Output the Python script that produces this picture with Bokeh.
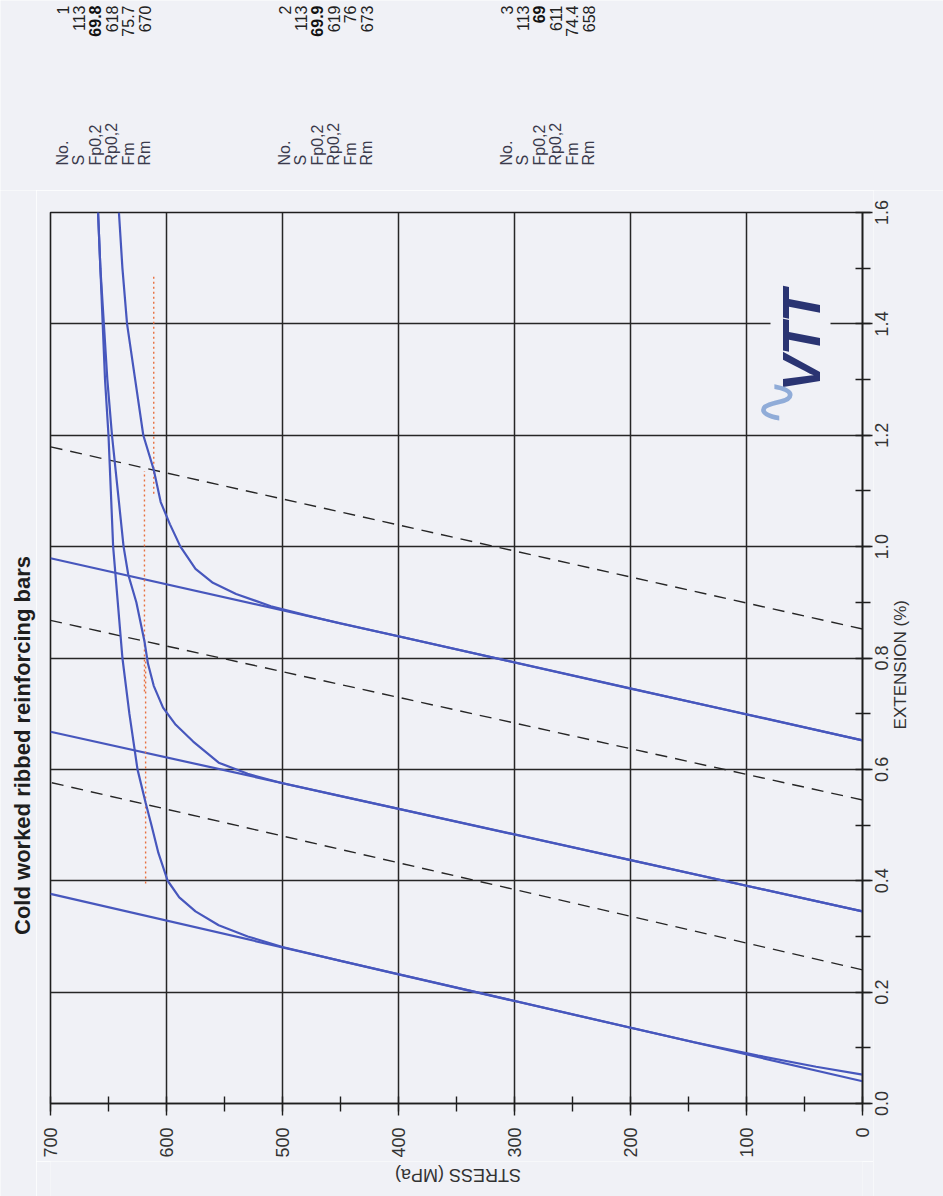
import numpy as np
from math import pi
from bokeh.plotting import figure
from bokeh.layouts import column, row
from bokeh.models import Range1d, SingleIntervalTicker, Label
from bokeh.core.properties import value
from bokeh.embed import file_html
from bokeh.resources import INLINE

# ---------------- data ----------------
specimen_no = ["1", "2", "3"]
area_S = ["113", "113", "113"]
Fp02 = ["69.8", "69.9", "69"]
Rp02 = [618, 619, 611]
Fm = ["75.7", "76", "74.4"]
Rm = [670, 673, 658]
row_names = ["No.", "S", "Fp0,2", "Rp0,2", "Fm", "Rm"]

# fitted elastic lines: extension (%) at zero stress and modulus (GPa)
fit_intercept = [0.040, 0.345, 0.652]
fit_modulus = [208, 217, 214]
offset_pct = 0.2

# measured curves
curve1_stress = [0, 40, 90, 145, 200, 300, 400, 450, 500, 530, 555, 575, 589, 599, 607, 613, 618,
                 625, 632, 638, 642, 646, 648, 650, 653, 655, 657, 659]
curve1_ext = [0.052, 0.066, 0.086, 0.110, 0.136, 0.184, 0.232, 0.256, 0.281, 0.300, 0.320, 0.345,
              0.370, 0.400, 0.450, 0.500, 0.540, 0.600, 0.700, 0.800, 0.900, 1.000, 1.100, 1.200,
              1.300, 1.400, 1.500, 1.600]
curve2_stress = [0, 100, 200, 300, 400, 450, 500, 530, 555, 577, 592, 603, 611, 616, 619, 626, 633,
                 637, 642, 647, 651, 654, 657, 659]
curve2_ext = [0.345, 0.391, 0.437, 0.483, 0.529, 0.552, 0.575, 0.592, 0.612, 0.650, 0.680, 0.711,
              0.750, 0.790, 0.830, 0.900, 0.950, 1.000, 1.100, 1.200, 1.300, 1.400, 1.500, 1.600]
curve3_stress = [0, 100, 200, 300, 400, 450, 480, 510, 540, 560, 575, 588, 597, 605, 611, 620, 627,
                 634, 638, 641]
curve3_ext = [0.652, 0.699, 0.745, 0.792, 0.839, 0.862, 0.877, 0.893, 0.915, 0.935, 0.960, 1.000,
              1.040, 1.080, 1.138, 1.200, 1.300, 1.400, 1.500, 1.600]

# Rp0,2 marker spans (extension %)
rp_span_start = [0.395, 0.74, 1.095]
rp_span_end = [0.80, 1.136, 1.49]

stress_min, stress_max, stress_step = 0, 700, 100
ext_min, ext_max, ext_step = 0.0, 1.6, 0.2
ext_tick_values = [0.0, 0.2, 0.4, 0.6, 0.8, 1.0, 1.2, 1.4, 1.6]
ext_tick_labels = ["0.0", "0.2", "0.4", "0.6", "0.8", "1.0", "1.2", "1.4", "1.6"]

# ---------------- page geometry (pixels) ----------------
W, H = 943, 1196
FL, FR, FT, FB = 50, 862, 212, 1103      # plot frame on the page
TOP_H = 190                              # stats strip height
MAIN_BL, MAIN_BR, MAIN_BT, MAIN_BB = 14, 11, FT - TOP_H, 58
LEFT_W = FL - MAIN_BL                    # title strip width
MAIN_W = MAIN_BL + (FR - FL) + MAIN_BR
MAIN_H = MAIN_BT + (FB - FT) + MAIN_BB
BOT_H = H - TOP_H - MAIN_H
RIGHT_W = W - LEFT_W - MAIN_W
MID_H = H - TOP_H

BG = "#f0f1f6"
BLUE = "#4757bd"
INK = "#1e1e1e"
FONT = "Liberation Sans"
TICK_FS = "18px"

px_per_mpa = (FR - FL) / (stress_max - stress_min)
px_per_pct = (FB - FT) / (ext_max - ext_min)


def panel(w, h, xr=None, yr=None):
    f = figure(width=w, height=h, output_backend="svg", toolbar_location=None, tools="",
               x_range=xr if xr is not None else Range1d(0, w),
               y_range=yr if yr is not None else Range1d(0, h),
               min_border=0, x_axis_location=None, y_axis_location=None)
    f.grid.visible = False
    f.outline_line_color = None
    f.background_fill_color = BG
    f.border_fill_color = BG
    return f


# ---------------- main chart ----------------
p = figure(width=MAIN_W, height=MAIN_H, output_backend="svg", toolbar_location=None, tools="",
           x_range=Range1d(stress_max, stress_min), y_range=Range1d(ext_min, ext_max),
           y_axis_location="right", min_border_left=MAIN_BL, min_border_right=MAIN_BR,
           min_border_top=MAIN_BT, min_border_bottom=MAIN_BB)
p.background_fill_color = BG
p.border_fill_color = BG
p.outline_line_color = INK
p.outline_line_width = 1.6

xt = SingleIntervalTicker(interval=stress_step, num_minor_ticks=2)
yt = SingleIntervalTicker(interval=ext_step, num_minor_ticks=2)
p.xaxis.ticker = xt
p.yaxis.ticker = yt
p.xgrid.ticker = xt
p.ygrid.ticker = yt
for g in (p.xgrid, p.ygrid):
    g.grid_line_color = "#262626"
    g.grid_line_width = 1.5

for ax in (p.xaxis, p.yaxis):
    ax.axis_line_color = INK
    ax.axis_line_width = 1.6
    ax.major_tick_line_color = INK
    ax.minor_tick_line_color = INK
    ax.major_tick_line_width = 1.4
    ax.minor_tick_line_width = 1.4
    ax.major_tick_in = 0
    ax.minor_tick_in = 7
    ax.minor_tick_out = 8
p.xaxis.major_tick_out = 12
p.xaxis.major_label_orientation = pi / 2
p.xaxis.major_label_standoff = 12
p.xaxis.major_label_text_font = FONT
p.xaxis.major_label_text_font_size = TICK_FS
p.xaxis.major_label_text_color = "#333333"
# right axis: ticks only, its labels are set in the right strip (centred on the ticks)
p.yaxis.major_tick_out = 10
p.yaxis.major_label_standoff = 0
p.yaxis.major_label_text_font_size = "0px"
p.yaxis.major_label_text_color = None

# fitted elastic lines and 0.2 % offset lines
s_line = np.array([stress_min, stress_max], dtype=float)
for b, e in zip(fit_intercept, fit_modulus):
    p.line(s_line, b + s_line / (e * 10.0), line_color=BLUE, line_width=2.2)
    p.line(s_line, b + offset_pct + s_line / (e * 10.0), line_color="#262626",
           line_width=1.4, line_dash="12 8")

# Rp0,2 levels
for rp, a, b in zip(Rp02, rp_span_start, rp_span_end):
    p.line([rp, rp], [a, b], line_color="#e8703f", line_width=1.4, line_dash="2 3")

# measured curves
for xs, ys in ((curve1_stress, curve1_ext), (curve2_stress, curve2_ext),
               (curve3_stress, curve3_ext)):
    p.line(xs, ys, line_color=BLUE, line_width=2.2)

# VTT logo (decoration inside the frame)
p.add_layout(Label(x=(FR - 800) / px_per_mpa, y=(FB - 340) / px_per_pct, text="VTT",
                   angle=pi / 2, text_align="center", text_baseline="middle",
                   text_font=FONT, text_font_size="54px", text_font_style="bold italic",
                   text_color="#2a3472", background_fill_color=BG))
p.add_layout(Label(x=(FR - 774) / px_per_mpa, y=(FB - 402) / px_per_pct, text="\u223f",
                   angle=pi / 2, text_align="center", text_baseline="middle",
                   text_font="DejaVu Sans", text_font_size="58px", text_color="#90acd8"))

# ---------------- top strip: specimen results ----------------
top = panel(W, TOP_H)
group_x = [62, 284, 506]
line_gap = 16.4
lx, ly, lt = [], [], []
vx, vy, vt = [], [], []
bx, by, bt = [], [], []
for gi, gx in enumerate(group_x):
    vals = [specimen_no[gi], area_S[gi], Fp02[gi], str(Rp02[gi]), Fm[gi], str(Rm[gi])]
    for li, name in enumerate(row_names):
        xx = gx + li * line_gap
        lx.append(xx); ly.append(TOP_H - 165); lt.append(name)
        if li == 2:
            bx.append(xx); by.append(TOP_H - 5); bt.append(vals[li])
        else:
            vx.append(xx); vy.append(TOP_H - 5); vt.append(vals[li])
STAT_FS = "16px"
top.text(x=lx, y=ly, text=lt, angle=pi / 2, text_align="left", text_baseline="middle",
         text_font=value(FONT), text_font_size=value(STAT_FS), text_color="#3a3a4c")
top.text(x=vx, y=vy, text=vt, angle=pi / 2, text_align="right", text_baseline="middle",
         text_font=value(FONT), text_font_size=value(STAT_FS), text_color="#222222")
top.text(x=bx, y=by, text=bt, angle=pi / 2, text_align="right", text_baseline="middle",
         text_font=value(FONT), text_font_size=value(STAT_FS), text_font_style="bold",
         text_color="#111111")

# ---------------- left strip: title ----------------
left = panel(LEFT_W, MID_H)
left.text(x=[22], y=[MID_H - (745 - TOP_H)], text=["Cold worked ribbed reinforcing bars"],
          angle=pi / 2, text_align="center", text_baseline="middle",
          text_font=value(FONT), text_font_size=value("22px"), text_font_style="bold",
          text_color=INK)

# ---------------- right strip: extension tick labels and axis title ----------------
r_top = ext_max + (FT - TOP_H) / px_per_pct
r_bot = ext_min - (H - FB) / px_per_pct
right = panel(RIGHT_W, MID_H, yr=Range1d(r_bot, r_top))
right.text(x=[881 - (W - RIGHT_W)] * len(ext_tick_values), y=ext_tick_values,
           text=ext_tick_labels, angle=pi / 2, text_align="center", text_baseline="middle",
           text_font=value(FONT), text_font_size=value(TICK_FS), text_color="#333333")
right.text(x=[900 - (W - RIGHT_W)], y=[(ext_min + ext_max) / 2 - 0.012], text=["EXTENSION (%)"],
           angle=pi / 2, text_align="center", text_baseline="middle",
           text_font=value(FONT), text_font_size=value("17px"), text_color="#333333")

# ---------------- bottom strip: stress axis title ----------------
b_left = stress_max + MAIN_BL / px_per_mpa
b_right = stress_min - MAIN_BR / px_per_mpa
bottom = panel(MAIN_W, BOT_H, xr=Range1d(b_left, b_right))
bottom.text(x=[(stress_min + stress_max) / 2], y=[BOT_H - (1174 - (H - BOT_H))],
            text=["STRESS (MPa)"], angle=pi, text_align="center", text_baseline="middle",
            text_font=value(FONT), text_font_size=value("18px"), text_color="#333333")

layout = column(top, row(left, column(p, bottom, spacing=0), right, spacing=0), spacing=0)

open("out.html", "w").write(file_html(layout, INLINE))
